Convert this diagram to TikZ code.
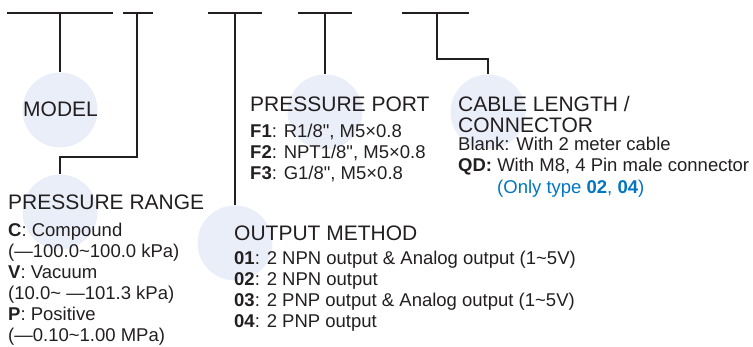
\documentclass[tikz,border=0pt]{standalone}
\usepackage{fontspec}
\setmainfont{Liberation Sans}
\definecolor{ink}{HTML}{231F20}
\definecolor{discfill}{HTML}{E9EEF8}
\definecolor{note}{HTML}{0075C2}
\newcommand{\tl}{\textasciitilde}
\newcommand{\inch}{\textquotedbl}

\begin{document}
\begin{tikzpicture}[x=1pt,y=-1pt]
  \tikzset{disc/.style={circle,fill=discfill,minimum size=75pt,inner sep=0pt},
           lead/.style={draw=ink,line width=1.2pt},
           head/.style={anchor=base west,inner sep=0pt,text=ink,font=\fontsize{21}{21}\selectfont},
           body/.style={anchor=base west,inner sep=0pt,text=ink,align=left,font=\fontsize{18.5}{21}\selectfont}}
  \useasboundingbox (0,0) rectangle (753,347);
  % bubbles behind the labels
  \node[disc] (mdl) at (60,110) {};
  \node[disc] (rng) at (60,212) {};
  \node[disc] (out) at (235,243) {};
  \node[disc] (prt) at (325,112) {};
  \node[disc] (cbl) at (488,112) {};
  % code bars
  \draw[lead] (7,13) -- (113,13);
  \draw[lead] (123,13) -- (153,13);
  \draw[lead] (208,13) -- (262,13);
  \draw[lead] (298,13) -- (352,13);
  \draw[lead] (402,13) -- (469,13);
  \coordinate (k1) at (60,13);
  \coordinate (k2) at (137,13);
  \coordinate (k3) at (235,13);
  \coordinate (k4) at (325,13);
  \coordinate (k5) at (437,13);
  \draw[lead] (k1) -- (mdl.north);
  \draw[lead] (k2) -- ++(0,144) -| (rng.north);
  \draw[lead] (k3) -- (out.north);
  \draw[lead] (k4) -- (prt.north);
  \draw[lead] (k5) -- ++(0,46) -| (cbl.north);
  % labels (multi-line nodes sit on their last baseline)
  \node[head] (mdlT) at (23,117) {MODEL};
  \node[head] (rngT) at (8,210) {PRESSURE RANGE};
  \node[body] (rngB) at (8,342) {\textbf{C}: Compound\\(—100.0\tl100.0 kPa)\\\textbf{V}: Vacuum\\(10.0\tl{} —101.3 kPa)\\\textbf{P}: Positive\\(—0.10\tl1.00 MPa)};
  \node[head] (prtT) at (250,112) {PRESSURE PORT};
  \node[body] (prtB) at (250,180) {\textbf{F1}: R1/8\inch, M5×0.8\\\textbf{F2}: NPT1/8\inch, M5×0.8\\\textbf{F3}: G1/8\inch, M5×0.8};
  \node[head] (outT) at (234,241) {OUTPUT METHOD};
  \node[body] (outB) at (234,328) {\textbf{01}: 2 NPN output \& Analog output (1\tl5V)\\\textbf{02}: 2 NPN output\\\textbf{03}: 2 PNP output \& Analog output (1\tl5V)\\\textbf{04}: 2 PNP output};
  \node[head,align=left] (cblT) at (458,133) {CABLE LENGTH /\\CONNECTOR};
  \node[body] (cblB) at (458,194) {Blank: With 2 meter cable\\\textbf{QD:} With M8, 4 Pin male connector\\[1.5pt]\hspace*{39pt}\textcolor{note}{(Only type \textbf{02}, \textbf{04})}};
\end{tikzpicture}
\end{document}
